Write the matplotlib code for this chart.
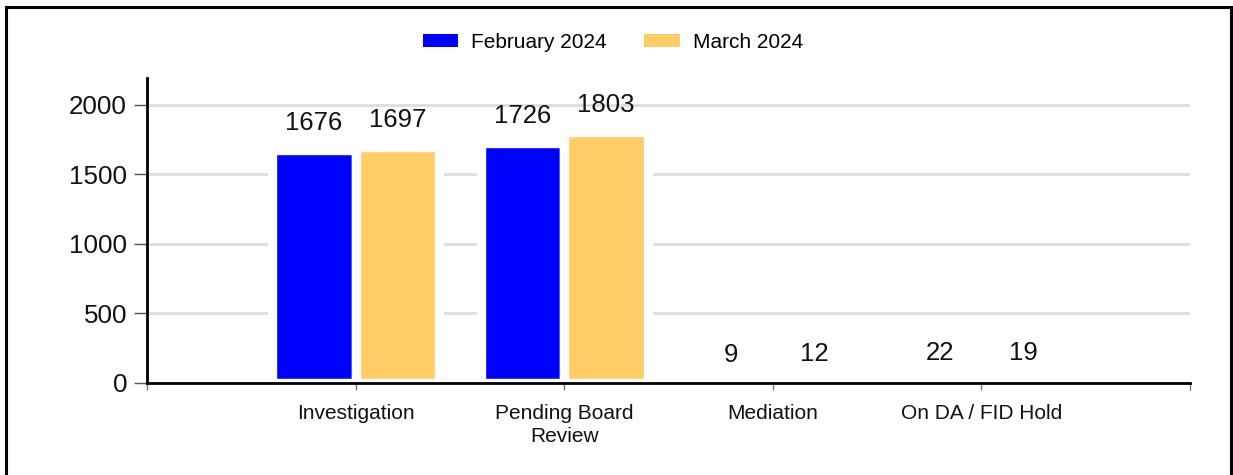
import matplotlib
matplotlib.use("Agg")
import matplotlib.pyplot as plt
from matplotlib.patches import Rectangle, Patch
import numpy as np

categories = ["Investigation", "Pending Board\nReview", "Mediation", "On DA / FID Hold"]
feb_2024 = [1676, 1726, 9, 22]
mar_2024 = [1697, 1803, 12, 19]
series_names = ["February 2024", "March 2024"]
colors = ["#0000FF", "#FFCC66"]
y_ticks = [0, 500, 1000, 1500, 2000]

plt.rcParams['font.family'] = ['Liberation Sans', 'DejaVu Sans']

W, H, DPI = 1233, 475, 100
fig = plt.figure(figsize=(W / DPI, H / DPI), dpi=DPI)
fig.patch.set_facecolor("white")

L, R, B, T = 147, 1190, 383, 78
ax = fig.add_axes([L / W, 1 - B / H, (R - L) / W, (B - T) / H])

x = np.arange(1, len(categories) + 1)
bw = 0.4
edge_lw = 9.4 * 72 / DPI
for vals, off, col, name in [(feb_2024, -bw / 2, colors[0], series_names[0]),
                             (mar_2024, bw / 2, colors[1], series_names[1])]:
    ax.bar(x + off, vals, width=bw, color=col, edgecolor="white",
           linewidth=edge_lw, zorder=1, label=name)
    for xi, v in zip(x + off, vals):
        ax.annotate(str(v), (xi, v), xytext=(0, 19.5), textcoords="offset points",
                    ha="center", va="center", fontsize=18.5, color="#111111",
                    zorder=5)

ax.set_xlim(0, 5)
ax.set_ylim(0, 2194)
ax.set_yticks(y_ticks)
ax.set_yticklabels([str(t) for t in y_ticks])
ax.set_xticks(range(0, 6))
ax.set_xticklabels([""] + categories + [""], linespacing=1.3)

ax.set_axisbelow(True)
ax.yaxis.grid(True, color="#dddddd", linewidth=2)
ax.xaxis.grid(False)

for s in ["top", "right"]:
    ax.spines[s].set_visible(False)
for s in ["left", "bottom"]:
    ax.spines[s].set_linewidth(2)
    ax.spines[s].set_color("black")
    ax.spines[s].set_zorder(3)

ax.tick_params(axis="y", length=9.4, width=1, color="#555555", pad=5,
               labelsize=18.7, labelcolor="#111111")
ax.tick_params(axis="x", length=5, width=1, color="#777777", pad=10,
               labelsize=15, labelcolor="#111111")

handles = [Patch(facecolor=c, edgecolor="none") for c in colors]
fig.legend(handles, series_names, loc="center", bbox_to_anchor=(0.497, 1 - 42 / H),
           ncol=2, frameon=False, fontsize=15, handlelength=1.7, handleheight=0.58,
           handletextpad=0.63, columnspacing=1.8)

frame = Rectangle((6 / W, -0.05), (1231 - 6) / W, 1.05 - 7 / H,
                  transform=fig.transFigure, fill=False, edgecolor="black",
                  linewidth=2.2, clip_on=False)
fig.patches.append(frame)

fig.savefig("out.png", dpi=DPI)
